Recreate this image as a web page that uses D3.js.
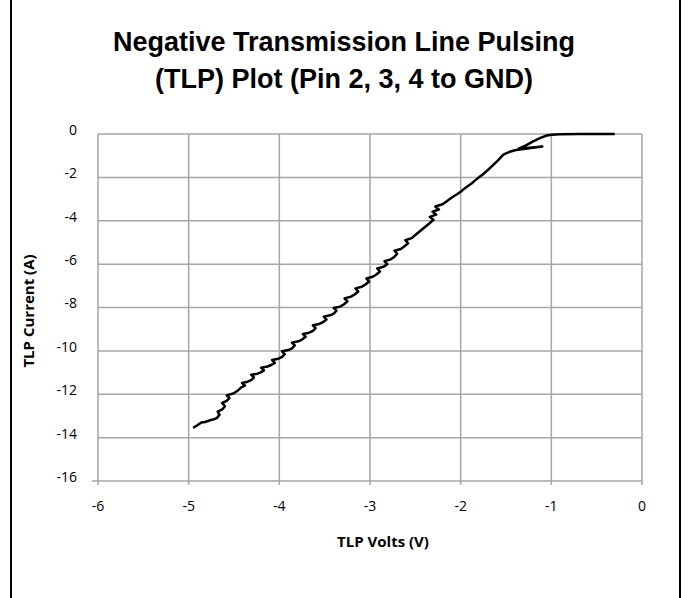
<!DOCTYPE html>
<html>
<head>
<meta charset="utf-8">
<script src="https://cdn.jsdelivr.net/npm/d3@7"></script>
<style>
  body { margin: 0; background: #fff; }
  svg { display: block; }
</style>
</head>
<body>
<svg id="chart" width="688" height="598"></svg>
<script>
// TLP sweep (volts, amps)
var volts = [
  -4.95, -4.90, -4.86, -4.82, -4.78, -4.75, -4.72, -4.69, -4.66, -4.68,
  -4.63, -4.60, -4.63, -4.58, -4.55, -4.58, -4.52, -4.49, -4.45, -4.42,
  -4.38, -4.41, -4.35, -4.31, -4.28, -4.31, -4.24, -4.20, -4.17, -4.20,
  -4.13, -4.09, -4.05, -4.08, -4.01, -3.97, -3.94, -3.97, -3.90, -3.86,
  -3.83, -3.86, -3.79, -3.75, -3.71, -3.74, -3.67, -3.63, -3.60, -3.63,
  -3.56, -3.52, -3.48, -3.51, -3.44, -3.40, -3.37, -3.40, -3.33, -3.29,
  -3.25, -3.28, -3.21, -3.17, -3.13, -3.16, -3.09, -3.05, -3.01, -3.04,
  -2.97, -2.93, -2.89, -2.92, -2.85, -2.81, -2.84, -2.77, -2.73, -2.70,
  -2.73, -2.66, -2.62, -2.58, -2.61, -2.54, -2.50, -2.46, -2.42, -2.38,
  -2.34, -2.30, -2.34, -2.27, -2.31, -2.24, -2.28, -2.20, -2.16, -2.12,
  -2.08, -2.04, -2.00, -1.96, -1.92, -1.88, -1.84, -1.80, -1.76, -1.70,
  -1.64, -1.58, -1.53, -1.46, -1.39, -1.10, -1.36, -1.28, -1.20, -1.12,
  -1.05, -1.00, -0.90, -0.70, -0.50, -0.30];
var current = [
  -13.55, -13.42, -13.30, -13.28, -13.22, -13.18, -13.15, -13.10, -12.95, -12.80,
  -12.70, -12.55, -12.40, -12.30, -12.18, -12.05, -11.98, -11.92, -11.80, -11.68,
  -11.60, -11.48, -11.42, -11.35, -11.22, -11.10, -11.05, -10.98, -10.90, -10.78,
  -10.72, -10.65, -10.55, -10.42, -10.36, -10.28, -10.15, -10.02, -9.96, -9.88,
  -9.75, -9.62, -9.56, -9.48, -9.35, -9.22, -9.16, -9.08, -8.95, -8.82,
  -8.76, -8.68, -8.55, -8.42, -8.36, -8.28, -8.15, -8.02, -7.96, -7.86,
  -7.72, -7.58, -7.50, -7.40, -7.26, -7.12, -7.04, -6.94, -6.80, -6.66,
  -6.58, -6.48, -6.34, -6.20, -6.12, -6.00, -5.86, -5.78, -5.66, -5.52,
  -5.38, -5.30, -5.18, -5.04, -4.90, -4.80, -4.66, -4.52, -4.38, -4.24,
  -4.10, -3.96, -3.82, -3.72, -3.58, -3.48, -3.34, -3.24, -3.12, -3.00,
  -2.88, -2.78, -2.66, -2.52, -2.40, -2.28, -2.14, -2.00, -1.88, -1.66,
  -1.42, -1.18, -0.95, -0.82, -0.74, -0.58, -0.68, -0.52, -0.34, -0.18,
  -0.07, -0.03, -0.01, 0, 0, 0];

var xTicks = [-6, -5, -4, -3, -2, -1, 0];
var yTicks = [0, -2, -4, -6, -8, -10, -12, -14, -16];
var titleLines = ["Negative Transmission Line Pulsing", "(TLP) Plot (Pin 2, 3, 4 to GND)"];

var svg = d3.select('#chart');
var plot = {left: 98, right: 642, top: 134, bottom: 481};

var x = d3.scaleLinear()
    .domain([-6, 0])
    .range([plot.left, plot.right]);

var y = d3.scaleLinear()
    .domain([-16, 0])
    .range([plot.bottom, plot.top]);

// frame lines on the sides
svg.append('line').attr('x1', 11).attr('x2', 11).attr('y1', 0).attr('y2', 598)
    .attr('stroke', '#000').attr('stroke-width', 2);
svg.append('line').attr('x1', 680).attr('x2', 680).attr('y1', 0).attr('y2', 598)
    .attr('stroke', '#000').attr('stroke-width', 2);

// title
svg.append('g')
    .selectAll('text')
    .data(titleLines)
    .enter()
    .append('text')
    .attr('x', 344)
    .attr('y', function(d, i) { return 51 + i * 37; })
    .attr('text-anchor', 'middle')
    .style('font-family', 'Liberation Sans, Arial, sans-serif')
    .style('font-weight', 'bold')
    .style('font-size', '27px')
    .text(function(d) { return d; });

// grid
var grid = svg.append('g');
grid.selectAll('line.h')
    .data(yTicks)
    .enter()
    .append('line')
    .attr('class', 'h')
    .attr('x1', function(d) { return d === -16 ? plot.left - 6 : plot.left; })
    .attr('x2', plot.right)
    .attr('y1', function(d) { return y(d); })
    .attr('y2', function(d) { return y(d); })
    .attr('stroke', '#a6a6a6')
    .attr('stroke-width', 1.5);

grid.selectAll('line.v')
    .data(xTicks)
    .enter()
    .append('line')
    .attr('class', 'v')
    .attr('x1', function(d) { return x(d); })
    .attr('x2', function(d) { return x(d); })
    .attr('y1', plot.top)
    .attr('y2', plot.bottom + 4)
    .attr('stroke', '#a6a6a6')
    .attr('stroke-width', 1.5);

// tick labels
var tickFont = 'Open Sans, Liberation Sans, sans-serif';
svg.append('g')
    .selectAll('text')
    .data(yTicks)
    .enter()
    .append('text')
    .attr('x', 77)
    .attr('y', function(d) { return y(d) - 4; })
    .attr('dy', '0.35em')
    .attr('text-anchor', 'end')
    .style('font-family', tickFont)
    .style('font-size', '14px')
    .text(function(d) { return d; });

svg.append('g')
    .selectAll('text')
    .data(xTicks)
    .enter()
    .append('text')
    .attr('x', function(d) { return x(d); })
    .attr('y', 506)
    .attr('dy', '0.35em')
    .attr('text-anchor', 'middle')
    .style('font-family', tickFont)
    .style('font-size', '14px')
    .text(function(d) { return d; });

// axis titles
svg.append('text')
    .attr('x', 383)
    .attr('y', 542)
    .attr('dy', '0.35em')
    .attr('text-anchor', 'middle')
    .style('font-family', tickFont)
    .style('font-weight', 'bold')
    .style('font-size', '15px')
    .text('TLP Volts (V)');

svg.append('text')
    .attr('transform', 'translate(29,311) rotate(-90)')
    .attr('dy', '0.35em')
    .attr('text-anchor', 'middle')
    .style('font-family', tickFont)
    .style('font-weight', 'bold')
    .style('font-size', '15px')
    .text('TLP Current (A)');

// the curve
var line = d3.line()
    .x(function(d) { return x(d[0]); })
    .y(function(d) { return y(d[1]); });

svg.append('path')
    .datum(d3.zip(volts, current))
    .attr('d', line)
    .attr('fill', 'none')
    .attr('stroke', '#000')
    .attr('stroke-width', 2.5)
    .attr('stroke-linejoin', 'round');
</script>
</body>
</html>
